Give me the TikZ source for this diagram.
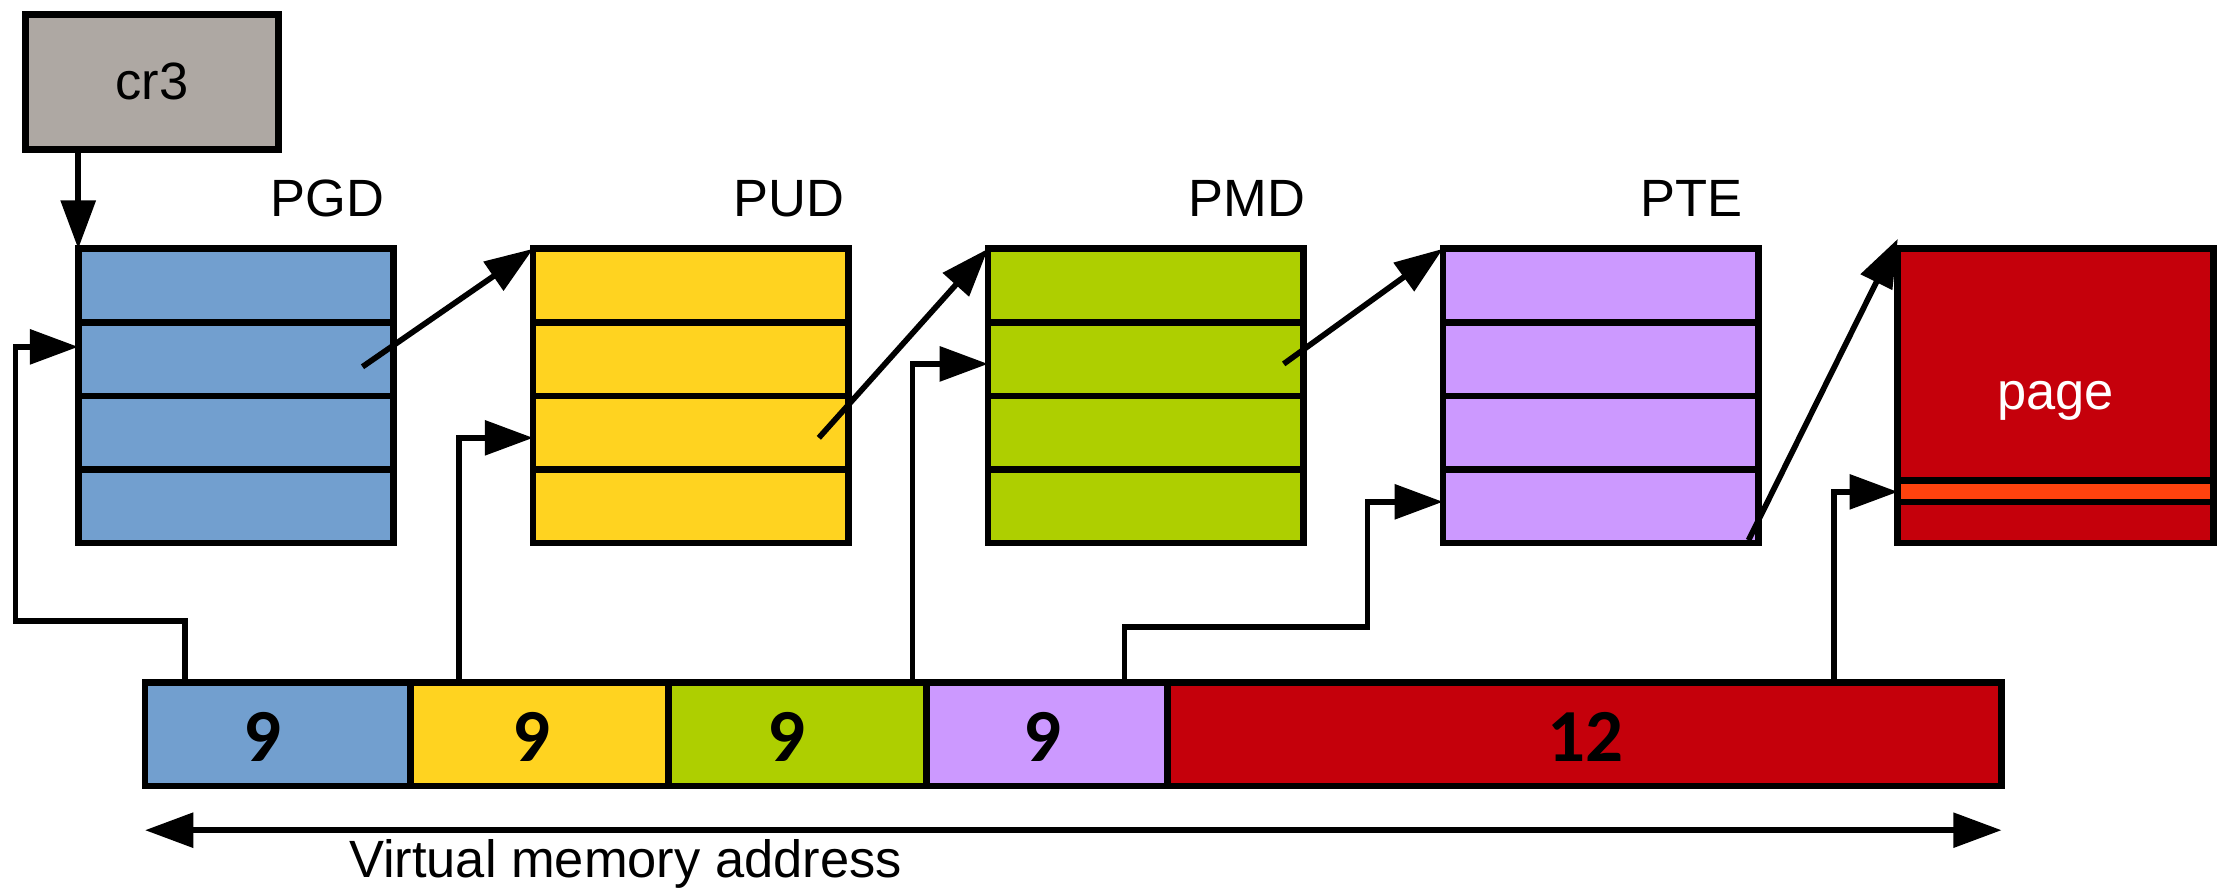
\documentclass[tikz,border=0pt]{standalone}
\usepackage{fontspec}
\setmainfont{Liberation Sans}
\newfontfamily\numfont{Carlito}
\usetikzlibrary{arrows.meta,calc}

\definecolor{crgray}{HTML}{AEA8A3}
\definecolor{pgdblue}{HTML}{729FCF}
\definecolor{pudyellow}{HTML}{FFD320}
\definecolor{pmdgreen}{HTML}{AECF00}
\definecolor{ptepurple}{HTML}{CC99FF}
\definecolor{pagered}{HTML}{C5000B}
\definecolor{stripeorange}{HTML}{FF420E}

\begin{document}
\begin{tikzpicture}[x=0.02cm, y=-0.02cm,
  every node/.style={inner sep=0pt, outer sep=0pt},
  box/.style={draw, line width=0.095cm},
  ptable/.style={box, minimum width=4.44cm, minimum height=4.14cm,
    path picture={
      \foreach \f in {0.25,0.5,0.75}{
        \draw[line width=0.095cm]
          ($(path picture bounding box.north west)!\f!(path picture bounding box.south west)$) --
          ($(path picture bounding box.north east)!\f!(path picture bounding box.south east)$);
      }}},
  pagebox/.style={box, minimum width=4.44cm, minimum height=4.14cm,
    path picture={
      \fill[stripeorange]
        ($(path picture bounding box.north west)!0.787!(path picture bounding box.south west)$) rectangle
        ($(path picture bounding box.north east)!0.861!(path picture bounding box.south east)$);
      \foreach \f in {0.787,0.861}{
        \draw[line width=0.095cm]
          ($(path picture bounding box.north west)!\f!(path picture bounding box.south west)$) --
          ($(path picture bounding box.north east)!\f!(path picture bounding box.south east)$);
      }}},
  seg/.style={box, minimum height=1.46cm},
  conn/.style={line width=0.08cm, -{Triangle[length=0.68cm,width=0.48cm]}},
  lbl/.style={anchor=base, font=\fontsize{21}{25}\selectfont},
  num/.style={anchor=base, font=\numfont\bfseries\fontsize{30}{36}\selectfont}
]
\useasboundingbox (0,0) rectangle (1568,628);

% register
\node[box, fill=crgray, minimum width=3.56cm, minimum height=1.9cm,
      font=\fontsize{21}{25}\selectfont] (cr3) at (107,57.5) {cr3};

% page tables
\node[ptable, fill=pgdblue]   (pgd) at (166,278.5) {};
\node[ptable, fill=pudyellow] (pud) at (486,278.5) {};
\node[ptable, fill=pmdgreen]  (pmd) at (806,278.5) {};
\node[ptable, fill=ptepurple] (pte) at (1126,278.5) {};
\node[pagebox, fill=pagered]  (page) at (1446,278.5) {};

\node[lbl] (pgdlbl) at (230.5,152.5) {PGD};
\node[lbl] (pudlbl) at (555,152.5) {PUD};
\node[lbl] (pmdlbl) at (877,152.5) {PMD};
\node[lbl] (ptelbl) at (1190,152.5) {PTE};
\node[lbl, text=white] (pagelbl) at (1446,288) {page};

% virtual address fields
\node[seg, fill=pgdblue,   minimum width=3.74cm]  (seg1) at (195.5,516.5) {};
\node[seg, fill=pudyellow, minimum width=3.62cm]  (seg2) at (379.5,516.5) {};
\node[seg, fill=pmdgreen,  minimum width=3.64cm]  (seg3) at (561,516.5) {};
\node[seg, fill=ptepurple, minimum width=3.38cm]  (seg4) at (736.5,516.5) {};
\node[seg, fill=pagered,   minimum width=11.74cm] (seg5) at (1114.5,516.5) {};

\node[num] (n1) at (184.6,536) {9};
\node[num] (n2) at (374,536) {9};
\node[num] (n3) at (553,536) {9};
\node[num] (n4) at (733,536) {9};
\node[num] (n5) at (1115,536) {12};

% pointers between levels
\draw[conn] (cr3.south -| pgd.north west) -- (pgd.north west);
\coordinate (pgdout) at (255,258);
\coordinate (pudout) at (576,308);
\coordinate (pmdout) at (903,256);
\coordinate (pteout) at (1230,380);
\draw[conn] (pgdout) -- (pud.north west);
\draw[conn] (pudout) -- (pmd.north west);
\draw[conn] (pmdout) -- (pte.north west);
\draw[conn] (pteout) -- ([yshift=0.14cm]page.north west);

% index fields select entries
\draw[conn] (seg1.north -| 130,0) |- (11,437) |- (pgd.west |- 0,244);
\draw[conn] (seg2.north -| 323,0) |- (pud.west |- 0,308);
\draw[conn] (seg3.north -| 642,0) |- (pmd.west |- 0,256);
\draw[conn] (seg4.north -| 791,0) |- (962,441) |- (pte.west |- 0,353);
\draw[conn] (seg5.north -| 1290,0) |- (page.west |- 0,346);

% address width
\coordinate (vaL) at (102,584);
\coordinate (vaR) at (1408,584);
\draw[conn, {Triangle[length=0.68cm,width=0.48cm]}-{Triangle[length=0.68cm,width=0.48cm]}] (vaL) -- (vaR);
\node[lbl] (valbl) at (440,617) {Virtual memory address};
\end{tikzpicture}
\end{document}
